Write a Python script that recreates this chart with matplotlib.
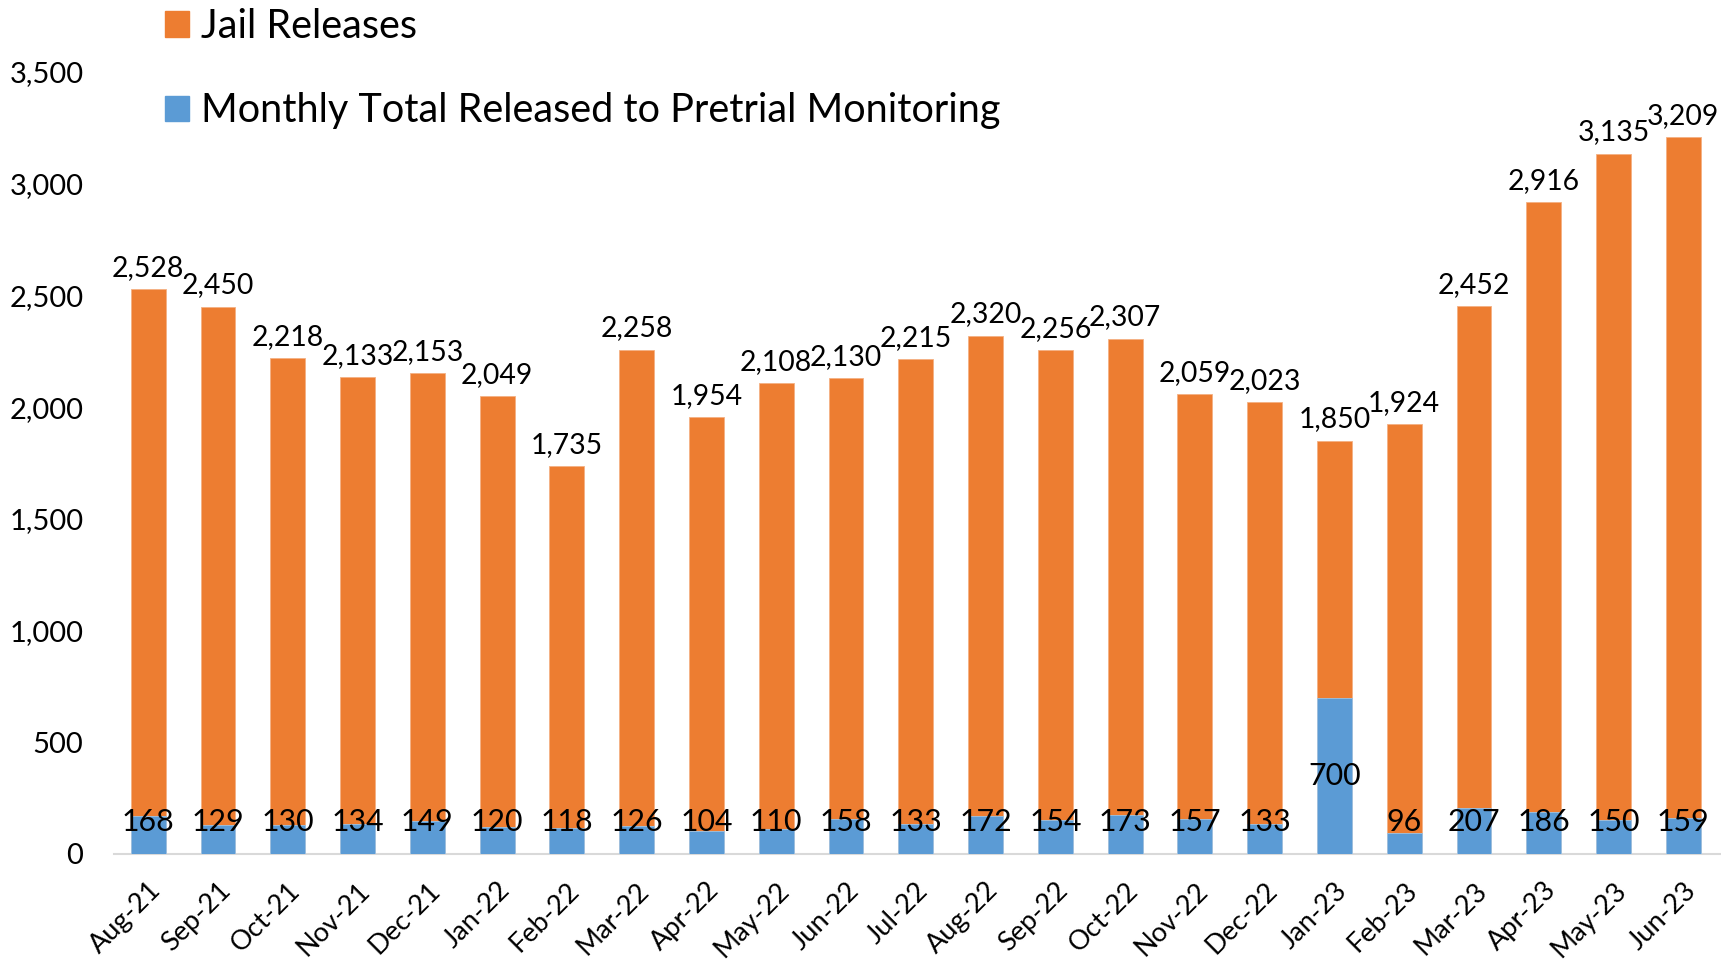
import matplotlib
matplotlib.use("Agg")
import matplotlib.pyplot as plt
from matplotlib.patches import Patch

plt.rcParams['font.family'] = ['Lato', 'DejaVu Sans']

months = ["Aug-21", "Sep-21", "Oct-21", "Nov-21", "Dec-21", "Jan-22", "Feb-22", "Mar-22",
          "Apr-22", "May-22", "Jun-22", "Jul-22", "Aug-22", "Sep-22", "Oct-22", "Nov-22",
          "Dec-22", "Jan-23", "Feb-23", "Mar-23", "Apr-23", "May-23", "Jun-23"]
jail_releases = [2528, 2450, 2218, 2133, 2153, 2049, 1735, 2258, 1954, 2108, 2130, 2215,
                 2320, 2256, 2307, 2059, 2023, 1850, 1924, 2452, 2916, 3135, 3209]
pretrial = [168, 129, 130, 134, 149, 120, 118, 126, 104, 110, 158, 133, 172, 154, 173,
            157, 133, 700, 96, 207, 186, 150, 159]
yticks = [0, 500, 1000, 1500, 2000, 2500, 3000, 3500]

ORANGE = "#ED7D31"
BLUE = "#5B9BD5"

W, H = 1721, 965
fig = plt.figure(figsize=(W / 100, H / 100), dpi=100)
ax_bottom = 854
ax_left = 114
ax = fig.add_axes([ax_left / W, (H - ax_bottom) / H, (W - ax_left) / W, ax_bottom / H])

x = list(range(len(months)))
bw = 0.5
ax.bar(x, jail_releases, width=bw, color=ORANGE, edgecolor="#F4B183", linewidth=0.6, zorder=2)
ax.bar(x, pretrial, width=bw, color=BLUE, edgecolor="#9DC3E6", linewidth=0.6, zorder=3)

px_per_unit = 0.2234  # pixels per data unit
ytop = 3500 + 72 / px_per_unit
ax.set_ylim(0, ytop)
ax.set_xlim(-0.49, len(months) - 1 + 0.54)

for xi, v in zip(x, jail_releases):
    ax.annotate(f"{v:,}", (xi, v), xytext=(0, 6), textcoords="offset points",
                ha="center", va="bottom", fontsize=20.4, color="black", zorder=5)
for xi, v in zip(x, pretrial):
    ax.text(xi, max(v / 2, 145), f"{v:,}", ha="center", va="center",
            fontsize=21.8, color="black", zorder=5)

ax.set_yticks(yticks)
ax.set_yticklabels([f"{t:,}" for t in yticks], fontsize=21)
ax.set_xticks(x)
ax.set_xticklabels(months, rotation=45, ha="right", rotation_mode="anchor", fontsize=19.5)
ax.tick_params(axis="both", length=0)
ax.tick_params(axis="y", pad=22)
ax.tick_params(axis="x", pad=17)

for s in ["top", "right", "left"]:
    ax.spines[s].set_visible(False)
ax.spines["bottom"].set_color("#D9D9D9")
ax.spines["bottom"].set_linewidth(1.5)

handles = [Patch(facecolor=ORANGE, edgecolor=ORANGE),
           Patch(facecolor=BLUE, edgecolor=BLUE)]
leg = fig.legend(handles, ["Jail Releases", "Monthly Total Released to Pretrial Monitoring"],
                 loc="upper left", bbox_to_anchor=(157 / W, 1 - 0 / H), frameon=False,
                 fontsize=28.5, handlelength=0.6, handleheight=0.6, handletextpad=0.3,
                 labelspacing=1.2, borderaxespad=0, borderpad=0.2)

fig.savefig("out.png", dpi=100)
